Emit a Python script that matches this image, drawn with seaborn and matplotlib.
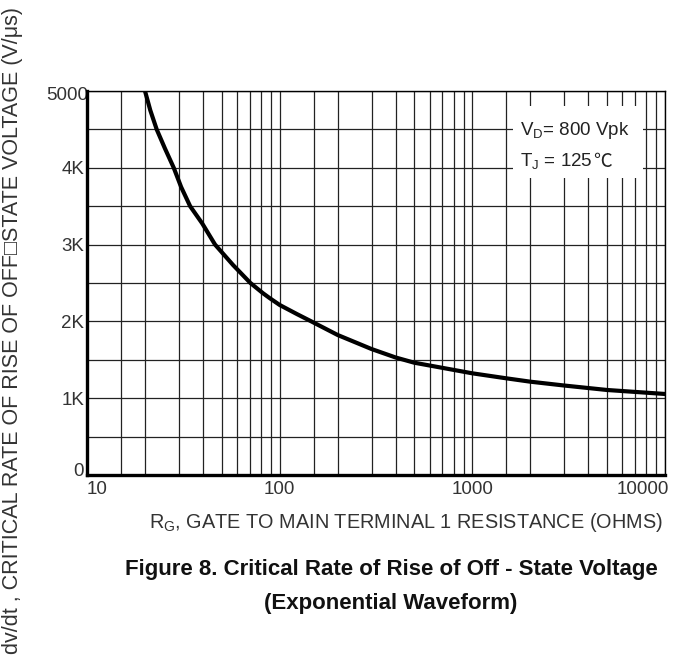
import numpy as np
import pandas as pd
import matplotlib
matplotlib.use("Agg")
import matplotlib.pyplot as plt
from matplotlib.ticker import FixedLocator, NullFormatter
from matplotlib.patches import Rectangle
import matplotlib.transforms as mtransforms
import seaborn as sns

# ---- data ----
resistance = [20, 21.3, 23, 25.4, 28.2, 30.8, 34.3, 39.6, 46.2, 57.3, 70.5, 82, 89, 100,
              123, 146, 200, 300, 400, 500, 1000, 1500, 2000, 3000, 5000, 10000]
dvdt = [5000, 4750, 4500, 4250, 4000, 3750, 3500, 3277, 3000, 2734, 2500, 2366, 2301, 2214,
        2095, 2000, 1823, 1640, 1530, 1462, 1324, 1259, 1215, 1165, 1107, 1055]
x_ticks = [10, 100, 1000, 10000]
x_tick_labels = ["10", "100", "1000", "10000"]
y_ticks = [0, 1000, 2000, 3000, 4000, 5000]
y_tick_labels = ["0", "1K", "2K", "3K", "4K", "5000"]

df = pd.DataFrame({"R": resistance, "V": dvdt})

sns.set_style("white")
plt.rcParams["font.family"] = ["Liberation Sans", "DejaVu Sans"]
plt.rcParams["mathtext.fontset"] = "custom"
plt.rcParams["mathtext.rm"] = "Liberation Sans"
plt.rcParams["mathtext.it"] = "Liberation Sans"

W, H = 699, 662
fig = plt.figure(figsize=(W / 100, H / 100), dpi=100)
L, R_, T, B = 87, 665, 91, 475
ax = fig.add_axes([L / W, 1 - B / H, (R_ - L) / W, (B - T) / H])

sns.lineplot(data=df, x="R", y="V", ax=ax, color="black", lw=3.0, zorder=5)

ax.set_xscale("log")
ax.set_xlim(10, 10000)
ax.set_ylim(0, 5000)

# grid
minor = []
for d in [10, 100, 1000]:
    minor += [d * m for m in [1.5, 2, 3, 4, 5, 6, 7, 8, 9]]
ax.xaxis.set_minor_locator(FixedLocator(minor))
ax.xaxis.set_minor_formatter(NullFormatter())
ax.set_xticks(x_ticks)
ax.set_xticklabels(x_tick_labels)
ax.set_yticks(y_ticks)
ax.set_yticklabels(y_tick_labels)
ax.yaxis.set_minor_locator(FixedLocator([500, 1500, 2500, 3500, 4500]))
ax.grid(True, which="both", color="#222222", lw=0.9)
ax.set_axisbelow(True)
ax.tick_params(which="both", length=0, labelsize=13.5, labelcolor="#333333")
ax.tick_params(axis="y", pad=2)
ax.tick_params(axis="x", pad=4)

for lab in ax.get_xticklabels():
    if lab.get_text() == "10":
        lab.set_ha("left")
    elif lab.get_text() == "10000":
        lab.set_ha("right")
        lab.set_transform(lab.get_transform() + mtransforms.ScaledTranslation(4 / 100, 0, fig.dpi_scale_trans))
for lab in ax.get_yticklabels():
    if lab.get_text() == "0":
        lab.set_transform(lab.get_transform() + mtransforms.ScaledTranslation(0, 5 / 100, fig.dpi_scale_trans))
    elif lab.get_text() == "5000":
        lab.set_transform(lab.get_transform() + mtransforms.ScaledTranslation(4 / 100, -3 / 100, fig.dpi_scale_trans))

for s in ["left", "bottom"]:
    ax.spines[s].set_linewidth(2.4)
    ax.spines[s].set_color("black")
for s in ["top", "right"]:
    ax.spines[s].set_linewidth(1.0)
    ax.spines[s].set_color("black")
ax.set_xlabel("")
ax.set_ylabel("")

# condition box
ax.add_patch(Rectangle(((513 - L) / (R_ - L), (B - 178) / (B - T)),
                       (643 - 513) / (R_ - L), (178 - 106) / (B - T),
                       transform=ax.transAxes, facecolor="white", edgecolor="none", zorder=3))
ax.text((520 - L) / (R_ - L), (B - 131) / (B - T), r"V$_{\mathrm{D}}$= 800 Vpk",
        transform=ax.transAxes, fontsize=13.5, color="#222222", va="center", ha="left", zorder=4)
t2 = ax.text((520 - L) / (R_ - L), (B - 161) / (B - T), "T$_{\\mathrm{J}}$ = 125",
             transform=ax.transAxes, fontsize=13.5, color="#222222", va="center", ha="left", zorder=4)
ax.annotate("\u2103", xy=(1, 0), xycoords=t2, xytext=(0.5, -0.5), textcoords="offset points",
            ha="left", va="bottom", fontsize=13.5, color="#222222", zorder=4,
            family=["Noto Sans CJK KR", "DejaVu Sans"])

# axis labels
fig.text(663 / W, 1 - 522 / H, r"R$_{\mathrm{G}}$, GATE TO MAIN TERMINAL 1 RESISTANCE (OHMS)",
         ha="right", va="center", fontsize=14.3, color="#333333")
fig.text(13 / W, 1 - 330 / H, "dv/dt , CRITICAL RATE OF RISE OF OFF\u25a1STATE VOLTAGE (V/\u03bcs)",
         ha="center", va="center", rotation=90, fontsize=15.5, color="#333333",
         family=["Liberation Sans", "DejaVu Sans"])

# caption
fig.text(391 / W, 1 - 570 / H, "Figure 8. Critical Rate of Rise of Off - State Voltage",
         ha="center", va="center", fontsize=16, fontweight="bold", color="#111111")
fig.text(391 / W, 1 - 604 / H, "(Exponential Waveform)",
         ha="center", va="center", fontsize=16, fontweight="bold", color="#111111")

fig.savefig("out.png", dpi=100)
